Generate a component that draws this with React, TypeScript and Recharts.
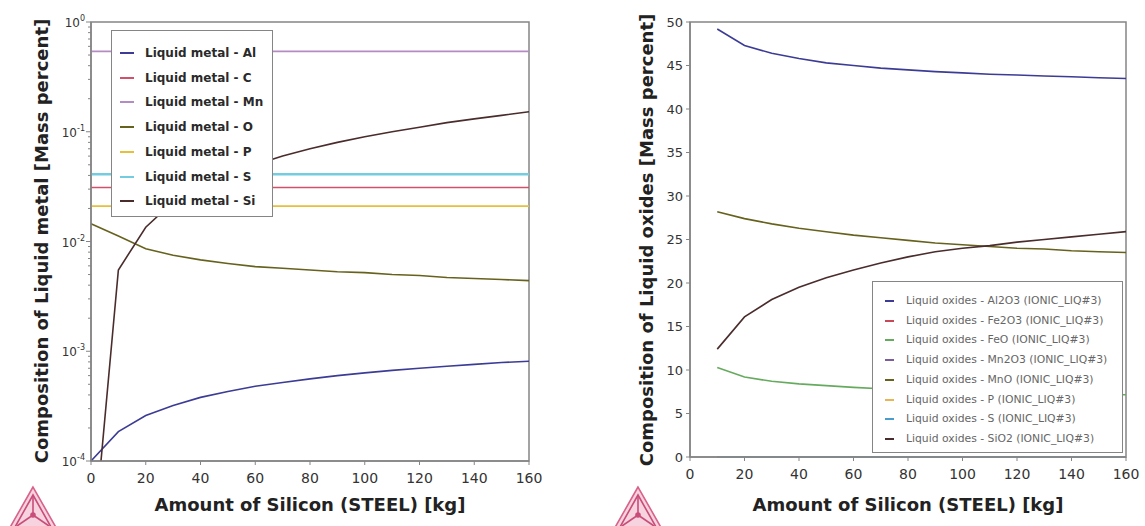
import React from 'react';
import { LineChart, Line, XAxis, YAxis, ReferenceArea } from 'recharts';

const FONT = '"DejaVu Sans", Verdana, sans-serif';
const AXIS = '#858585';

// left panel: liquid metal, log scale
const metalX = [0, 10, 20, 30, 40, 50, 60, 70, 80, 90, 100, 110, 120, 130, 140, 150, 160];
const metalAl = [1.0e-4, 1.85e-4, 2.6e-4, 3.2e-4, 3.8e-4, 4.3e-4, 4.8e-4, 5.2e-4, 5.6e-4, 6.0e-4, 6.35e-4, 6.7e-4, 7.0e-4, 7.3e-4, 7.6e-4, 7.9e-4, 8.1e-4];
const metalO = [0.0145, 0.0112, 0.0086, 0.0075, 0.0068, 0.0063, 0.0059, 0.0057, 0.0055, 0.0053, 0.0052, 0.005, 0.0049, 0.0047, 0.0046, 0.0045, 0.0044];
const metalSi = [1.0e-5, 0.0055, 0.0135, 0.023, 0.032, 0.041, 0.05, 0.06, 0.07, 0.08, 0.09, 0.1, 0.11, 0.121, 0.131, 0.141, 0.152];
const flatX = [0, 160];
const metalC = [0.031, 0.031];
const metalMn = [0.54, 0.54];
const metalP = [0.021, 0.021];
const metalS = [0.041, 0.041];

const decadeTicks = [1e-4, 1e-3, 1e-2, 1e-1, 1];
const decadeLabels = ['-4', '-3', '-2', '-1', '0'];
const kgTicks = [0, 20, 40, 60, 80, 100, 120, 140, 160];

// right panel: liquid oxides
const oxideX = [10, 20, 30, 40, 50, 60, 70, 80, 90, 100, 110, 120, 130, 140, 150, 160];
const oxAl2O3 = [49.2, 47.3, 46.4, 45.8, 45.3, 45.0, 44.7, 44.5, 44.3, 44.15, 44.0, 43.9, 43.8, 43.7, 43.6, 43.5];
const oxMnO = [28.2, 27.4, 26.8, 26.3, 25.9, 25.5, 25.2, 24.9, 24.6, 24.4, 24.2, 24.0, 23.9, 23.7, 23.6, 23.5];
const oxSiO2 = [12.4, 16.1, 18.1, 19.5, 20.6, 21.5, 22.3, 23.0, 23.6, 24.0, 24.3, 24.7, 25.0, 25.3, 25.6, 25.9];
const oxFeO = [10.3, 9.2, 8.7, 8.4, 8.2, 8.0, 7.85, 7.75, 7.65, 7.55, 7.5, 7.4, 7.35, 7.3, 7.2, 7.15];
const oxFlatX = [10, 160];
const oxFe2O3 = [0, 0];
const oxMn2O3 = [0, 0];
const oxP = [0, 0];
const oxS = [0, 0];
const pctTicks = [0, 5, 10, 15, 20, 25, 30, 35, 40, 45, 50];

type Series = { name: string; color: string; xs: number[]; ys: number[]; width?: number };

const metalSeries: Series[] = [
  { name: 'Liquid metal - Al', color: '#3c3c96', xs: metalX, ys: metalAl },
  { name: 'Liquid metal - C', color: '#d2506a', xs: flatX, ys: metalC },
  { name: 'Liquid metal - Mn', color: '#b48cc4', xs: flatX, ys: metalMn },
  { name: 'Liquid metal - O', color: '#66621e', xs: metalX, ys: metalO },
  { name: 'Liquid metal - P', color: '#e6bf3c', xs: flatX, ys: metalP },
  { name: 'Liquid metal - S', color: '#74cce0', xs: flatX, ys: metalS, width: 2.5 },
  { name: 'Liquid metal - Si', color: '#4a2c2c', xs: metalX, ys: metalSi },
];

const oxideSeries: Series[] = [
  { name: 'Liquid oxides - Al2O3 (IONIC_LIQ#3)', color: '#3c3c96', xs: oxideX, ys: oxAl2O3 },
  { name: 'Liquid oxides - Fe2O3 (IONIC_LIQ#3)', color: '#c84858', xs: oxFlatX, ys: oxFe2O3, width: 1 },
  { name: 'Liquid oxides - FeO (IONIC_LIQ#3)', color: '#66aa5e', xs: oxideX, ys: oxFeO },
  { name: 'Liquid oxides - Mn2O3 (IONIC_LIQ#3)', color: '#7c5c9c', xs: oxFlatX, ys: oxMn2O3, width: 1 },
  { name: 'Liquid oxides - MnO (IONIC_LIQ#3)', color: '#66621e', xs: oxideX, ys: oxMnO },
  { name: 'Liquid oxides - P (IONIC_LIQ#3)', color: '#e8b454', xs: oxFlatX, ys: oxP, width: 1 },
  { name: 'Liquid oxides - S (IONIC_LIQ#3)', color: '#4a9ccc', xs: oxFlatX, ys: oxS, width: 1 },
  { name: 'Liquid oxides - SiO2 (IONIC_LIQ#3)', color: '#4a2c2c', xs: oxideX, ys: oxSiO2 },
];

const toRows = (s: Series) => s.xs.map((x, i) => ({ x, y: s.ys[i] }));

// minor ticks for the log axis (2..9 per decade)
const logTicks: number[] = [];
decadeTicks.forEach((d, i) => {
  logTicks.push(d);
  if (i < decadeTicks.length - 1) for (let m = 2; m <= 9; m++) logTicks.push(m * d);
});

const LogTick = (props: any) => {
  const { x, y, payload } = props;
  const idx = decadeTicks.findIndex((d) => Math.abs(payload.value - d) < d * 1e-6);
  const major = idx >= 0;
  return (
    <g>
      <line x1={x} x2={x - (major ? 5 : 3)} y1={y} y2={y} stroke={AXIS} strokeWidth={1} />
      {major && (
        <text x={x - 6} y={y + 5} textAnchor="end" fontSize={12} fill="#333" fontFamily={FONT}>
          <tspan>10</tspan>
          <tspan dy={-6} fontSize={8}>{decadeLabels[idx]}</tspan>
        </text>
      )}
    </g>
  );
};

const xTickStyle = { fontSize: 14, fill: '#333', fontFamily: FONT };
const yTickStyle = { fontSize: 13, fill: '#333', fontFamily: FONT };

const LegendBox = ({ items, left, top, width, height, firstRow, rowGap, markX, markW, textX, fontSize, weight, color }: any) => (
  <div style={{ position: 'absolute', left, top, width, height, background: '#fff', border: `1.5px solid ${AXIS}`, boxSizing: 'border-box' }}>
    {items.map((s: Series, i: number) => (
      <div key={s.name} style={{ position: 'absolute', left: 0, top: firstRow + i * rowGap - 10, height: 20, width: '100%' }}>
        <div style={{ position: 'absolute', left: markX, top: 9, width: markW, height: 2, background: s.color }} />
        <div style={{ position: 'absolute', left: textX, top: 0, lineHeight: '20px', fontSize, fontWeight: weight, color, fontFamily: FONT, whiteSpace: 'nowrap' }}>{s.name}</div>
      </div>
    ))}
  </div>
);

const Title = ({ text, cx, cy, vertical }: any) => (
  <div style={{ position: 'absolute', left: cx - 250, top: cy - 12, width: 500, height: 24, lineHeight: '24px', textAlign: 'center', fontFamily: FONT, fontWeight: 'bold', fontSize: 18, color: '#222', transform: vertical ? 'rotate(-90deg)' : undefined, whiteSpace: 'nowrap' }}>{text}</div>
);

const Logo = ({ left }: { left: number }) => (
  <svg style={{ position: 'absolute', left, top: 485, width: 52, height: 41 }} viewBox="0 0 52 41">
    <polygon points="26,2 1,46 51,46" fill="#f6d3de" stroke="#d9628a" strokeWidth={1.6} />
    <g fill="none" stroke="#c94d7a" strokeWidth={1.6}>
      <polygon points="26,10 8,42 44,42" />
      <line x1={26} y1={10} x2={26} y2={30} />
      <line x1={26} y1={30} x2={10} y2={41} />
      <line x1={26} y1={30} x2={42} y2={41} />
      <circle cx={26} cy={30} r={2} fill="#c94d7a" />
    </g>
  </svg>
);

export default function App() {
  return (
    <div style={{ position: 'absolute', left: 0, top: 0, width: 1145, height: 526, background: '#fff', fontFamily: FONT }}>
      <div style={{ position: 'absolute', left: 0, top: 0 }}>
        <LineChart width={560} height={526} margin={{ top: 22, right: 31, bottom: 35, left: 31 }}>
          <XAxis dataKey="x" type="number" domain={[0, 160]} ticks={kgTicks} interval={0} height={30}
            axisLine={{ stroke: AXIS, strokeWidth: 1.5 }} tickLine={{ stroke: AXIS }} tickSize={4} tickMargin={8} tick={xTickStyle} />
          <YAxis type="number" scale="log" domain={[1e-4, 1]} allowDataOverflow ticks={logTicks} interval={0} width={60}
            axisLine={{ stroke: AXIS, strokeWidth: 1.5 }} tickLine={false} tickSize={0} tickMargin={0} tick={(p: any) => <LogTick {...p} />} />
          {metalSeries.map((s) => (
            <Line key={s.name} data={toRows(s)} dataKey="y" type="linear" stroke={s.color} strokeWidth={s.width ?? 1.6}
              dot={false} isAnimationActive={false} />
          ))}
          <ReferenceArea x1={0} x2={160} y1={1e-4} y2={1} fill="none" stroke={AXIS} strokeWidth={1.5} />
        </LineChart>
      </div>
      <div style={{ position: 'absolute', left: 580, top: 0 }}>
        <LineChart width={565} height={526} margin={{ top: 22, right: 19, bottom: 39, left: 50 }}>
          <XAxis dataKey="x" type="number" domain={[0, 160]} ticks={kgTicks} interval={0} height={30}
            axisLine={{ stroke: AXIS, strokeWidth: 1.5 }} tickLine={{ stroke: AXIS }} tickSize={4} tickMargin={8} tick={xTickStyle} />
          <YAxis type="number" domain={[0, 50]} ticks={pctTicks} interval={0} width={60}
            axisLine={{ stroke: AXIS, strokeWidth: 1.5 }} tickLine={{ stroke: AXIS }} tickSize={4} tickMargin={3} tick={yTickStyle} />
          {oxideSeries.map((s) => (
            <Line key={s.name} data={toRows(s)} dataKey="y" type="linear" stroke={s.color} strokeWidth={s.width ?? 1.6}
              dot={false} isAnimationActive={false} />
          ))}
          <ReferenceArea x1={0} x2={160} y1={0} y2={50} fill="none" stroke={AXIS} strokeWidth={1.5} />
        </LineChart>
      </div>

      <LegendBox items={metalSeries} left={111} top={30} width={162} height={187} firstRow={22} rowGap={24.7}
        markX={8} markW={14} textX={33} fontSize={12} weight="bold" color="#2a2a2a" />
      <LegendBox items={oxideSeries} left={872} top={281} width={251} height={172} firstRow={19} rowGap={19.7}
        markX={12} markW={9} textX={33} fontSize={10.8} weight="normal" color="#666" />

      <Title text="Amount of Silicon (STEEL) [kg]" cx={310} cy={505} />
      <Title text="Composition of Liquid metal [Mass percent]" cx={42} cy={241} vertical />
      <Title text="Amount of Silicon (STEEL) [kg]" cx={908} cy={505} />
      <Title text="Composition of Liquid oxides [Mass percent]" cx={647} cy={240} vertical />

      <Logo left={7} />
      <Logo left={612} />
    </div>
  );
}
